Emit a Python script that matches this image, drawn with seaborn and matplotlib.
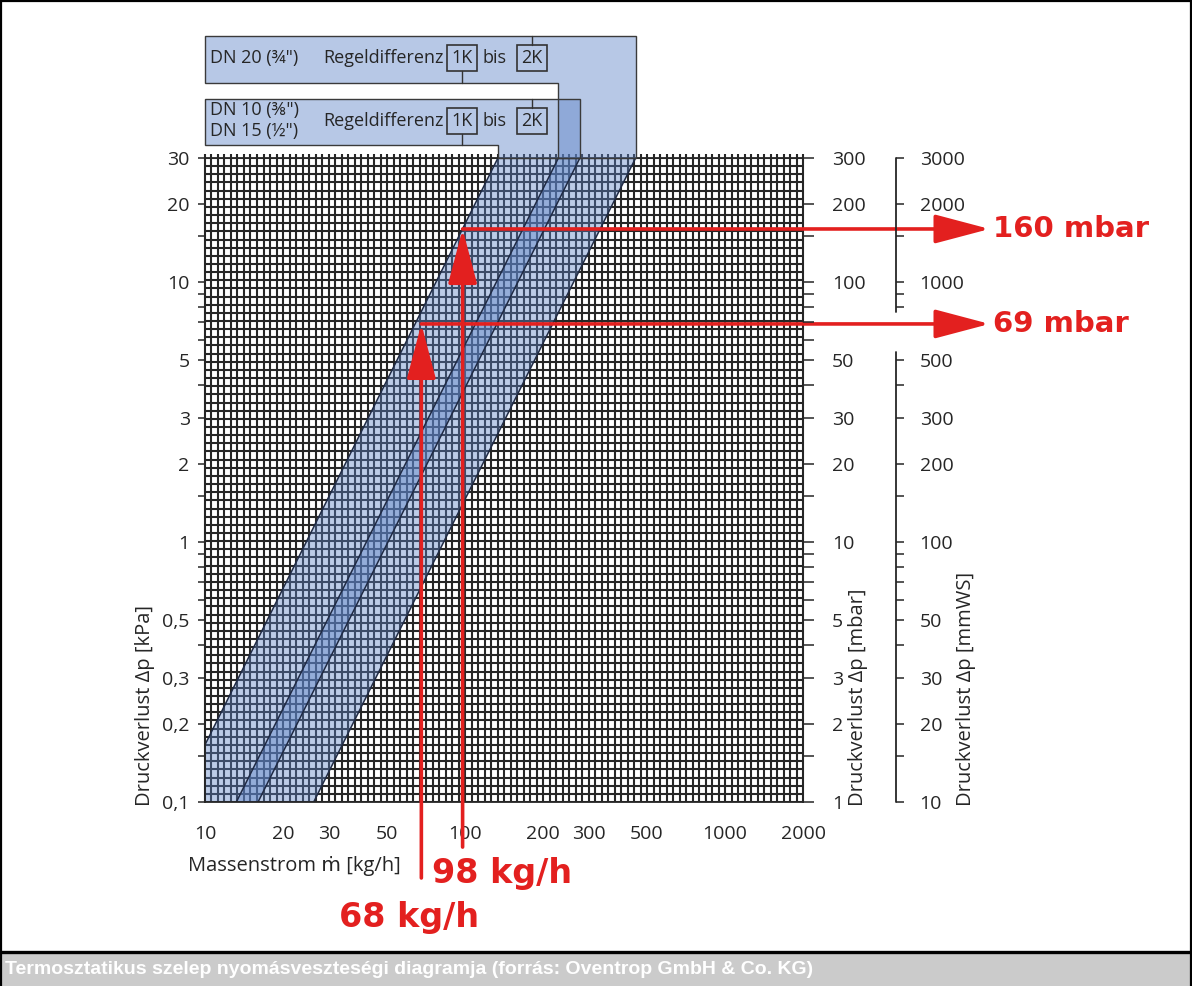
import numpy as np
import pandas as pd
import matplotlib
matplotlib.use("Agg")
import matplotlib.pyplot as plt
import seaborn as sns
from matplotlib.patches import Polygon, Rectangle, ArrowStyle
from matplotlib.lines import Line2D
from matplotlib.ticker import FixedLocator, NullFormatter

# ---- axis ticks -----------------------------------------------------------
flow_ticks = [10, 20, 30, 50, 100, 200, 300, 500, 1000, 2000]
kpa_ticks = [0.1, 0.2, 0.3, 0.5, 1, 2, 3, 5, 10, 20, 30]
kpa_labels = ["0,1", "0,2", "0,3", "0,5", "1", "2", "3", "5", "10", "20", "30"]
mbar_ticks = [1, 2, 3, 5, 10, 20, 30, 50, 100, 200, 300]
mmws_ticks = [10, 20, 30, 50, 100, 200, 300, 500, 1000, 2000, 3000]

# ---- characteristic lines (Δp ~ m²), given by their end points on the chart --
boundary_names = ["DN 10/15 1K", "DN 20 1K", "DN 10/15 2K", "DN 20 2K"]
boundary_flow_lo = [10.0, 13.2, 16.0, 26.2]    # kg/h
boundary_dp_lo = [0.166, 0.1, 0.1, 0.1]         # kPa
boundary_flow_hi = [134, 229, 277, 454]         # kg/h
boundary_dp_hi = [30, 30, 30, 30]               # kPa

# ---- reading examples ---------------------------------------------------------
read_flow = [68, 98]      # kg/h
read_mbar = [69, 160]     # mbar

RED = "#e3201f"
DARK = "#262626"
BAND = "#5d83c7"
BAND_ALPHA = 0.41
W, H = 1192, 986
TICK_FS = 14
LABEL_FS = 14.5

sns.set_theme(style="white")
plt.rcParams["font.family"] = ["Open Sans", "DejaVu Sans"]
plt.rcParams["text.color"] = DARK


def FX(x):
    return x / W


def FY(y):
    return 1 - y / H


fig = plt.figure(figsize=(W / 100, H / 100), dpi=100)
ax = fig.add_axes([FX(205), FY(802), 598 / W, 644 / H])
ax.set_xscale("log")
ax.set_yscale("log")
ax.set_xlim(10, 2000)
ax.set_ylim(0.1, 30)

# dense log paper grid
gx = 10 ** np.linspace(1, np.log10(2000), 93)
gy = 10 ** np.linspace(-1, np.log10(30), 80)
ax.vlines(gx, 0, 1.006, transform=ax.get_xaxis_transform(), colors="#262626",
          lw=1.5, zorder=3, clip_on=False)
ax.hlines(gy, 0, 1, transform=ax.get_yaxis_transform(), colors="#262626",
          lw=1.5, zorder=3)

# shaded bands (1K .. 2K) for both valve sizes, laid over the paper grid
bands = {
    "DN 10/15": [(boundary_flow_lo[0], 0.1), (boundary_flow_lo[0], boundary_dp_lo[0]),
                 (boundary_flow_hi[0], boundary_dp_hi[0]), (boundary_flow_hi[2], boundary_dp_hi[2]),
                 (boundary_flow_lo[2], boundary_dp_lo[2])],
    "DN 20": [(boundary_flow_lo[1], boundary_dp_lo[1]), (boundary_flow_hi[1], boundary_dp_hi[1]),
              (boundary_flow_hi[3], boundary_dp_hi[3]), (boundary_flow_lo[3], boundary_dp_lo[3])],
}
for verts in bands.values():
    ax.add_patch(Polygon(verts, closed=True, facecolor=BAND, alpha=BAND_ALPHA,
                         edgecolor="none", zorder=3.5))

lines_df = pd.DataFrame({
    "line": boundary_names * 2,
    "flow": boundary_flow_lo + boundary_flow_hi,
    "dp": boundary_dp_lo + boundary_dp_hi,
})
sns.lineplot(data=lines_df, x="flow", y="dp", hue="line", units="line",
             estimator=None, palette=["#1f2a44"] * 4, lw=1.1, legend=False,
             ax=ax, zorder=4)
ax.set_xlim(10, 2000)
ax.set_ylim(0.1, 30)

# ---- axes, ticks ----------------------------------------------------------------
def minor_positions(lo, hi):
    out = []
    for e in range(-2, 5):
        for m in (1.5, 4, 6, 7, 8, 9):
            v = m * 10 ** e
            if lo < v < hi:
                out.append(v)
    return out


ax.set_xticks(flow_ticks, labels=[str(v) for v in flow_ticks])
ax.xaxis.set_minor_locator(FixedLocator(minor_positions(10, 2000)))
ax.xaxis.set_minor_formatter(NullFormatter())
ax.set_yticks(kpa_ticks, labels=kpa_labels)
ax.yaxis.set_minor_locator(FixedLocator(minor_positions(0.1, 30)))
ax.yaxis.set_minor_formatter(NullFormatter())
ax.tick_params(axis="x", which="both", direction="inout", length=7, width=1.1,
               color=DARK, pad=13, labelsize=TICK_FS, labelcolor=DARK)
ax.tick_params(axis="y", which="both", direction="out", length=5, width=1.1,
               color=DARK, pad=6, labelsize=TICK_FS, labelcolor=DARK)
for s in ax.spines.values():
    s.set_color(DARK)
    s.set_linewidth(1.3)
    s.set_zorder(5)
ax.set_xlabel("")
ax.set_ylabel("")

# mbar scale on the right frame
ax2 = ax.twinx()
ax2.set_yscale("log")
ax2.set_ylim(1, 300)
ax2.set_yticks(mbar_ticks, labels=[str(v) for v in mbar_ticks])
ax2.yaxis.set_minor_locator(FixedLocator(minor_positions(1, 300)))
ax2.yaxis.set_minor_formatter(NullFormatter())
ax2.tick_params(axis="y", which="both", direction="out", length=8, width=1.1,
                color=DARK, pad=13, labelsize=TICK_FS, labelcolor=DARK)
for s in ax2.spines.values():
    s.set_visible(False)
ax2.grid(False)

# mmWS scale, broken where the reading arrows pass
mm_x = (896 - 205) / 598
ax3 = ax.twinx()
ax3.set_yscale("log")
ax3.set_ylim(10, 3000)
for s in ax3.spines.values():
    s.set_visible(False)
ax3.grid(False)
seg_lo, seg_hi = (10, 540), (770, 3000)
mm_major = [v for v in mmws_ticks if seg_lo[0] <= v <= seg_lo[1] or seg_hi[0] <= v <= seg_hi[1]]
mm_minor = [v for v in minor_positions(10, 3000)
            if seg_lo[0] <= v <= seg_lo[1] or seg_hi[0] <= v <= seg_hi[1]]
ax3.set_yticks(mm_major, labels=[str(v) for v in mm_major])
ax3.yaxis.set_minor_locator(FixedLocator(mm_minor))
ax3.yaxis.set_minor_formatter(NullFormatter())
ax3.yaxis.set_ticks_position("right")
ax3.spines["right"].set_position(("axes", mm_x))
ax3.tick_params(axis="y", which="both", direction="out", length=6, width=1.1,
                color=DARK, pad=11, labelsize=TICK_FS, labelcolor=DARK)
for lo, hi in (seg_lo, seg_hi):
    ax3.add_line(Line2D([mm_x, mm_x], [lo, hi], transform=ax3.get_yaxis_transform(),
                        color=DARK, lw=1.3, clip_on=False))

# axis titles
fig.text(FX(145), FY(806), "Druckverlust Δp [kPa]", rotation=90, ha="center",
         va="bottom", fontsize=LABEL_FS)
fig.text(FX(858), FY(806), "Druckverlust Δp [mbar]", rotation=90, ha="center",
         va="bottom", fontsize=LABEL_FS)
fig.text(FX(966), FY(806), "Druckverlust Δp [mmWS]", rotation=90, ha="center",
         va="bottom", fontsize=LABEL_FS)
fig.text(FX(188), FY(866), "Massenstrom ṁ [kg/h]", ha="left", va="center",
         fontsize=LABEL_FS)

# ---- legend boxes above the chart ---------------------------------------------------
xt = ax.get_xaxis_transform()
ya = lambda py: (802 - py) / 644
poly20 = [(10, ya(36)), (boundary_flow_hi[3], ya(36)), (boundary_flow_hi[3], 1.0),
          (boundary_flow_hi[1], 1.0), (boundary_flow_hi[1], ya(83)), (10, ya(83))]
poly10 = [(10, ya(99)), (boundary_flow_hi[2], ya(99)), (boundary_flow_hi[2], 1.0),
          (boundary_flow_hi[0], 1.0), (boundary_flow_hi[0], ya(145)), (10, ya(145))]
for verts in (poly20, poly10):
    ax.add_patch(Polygon(verts, closed=True, transform=xt, facecolor=BAND,
                         alpha=0.44, edgecolor="none", clip_on=False, zorder=6))
    ax.add_patch(Polygon(verts, closed=True, transform=xt, facecolor="none",
                         edgecolor="#3a3a3a", lw=1.0, clip_on=False, zorder=7))

box_font = dict(fontsize=13, color=DARK, va="center")
fig.text(FX(210), FY(58), "DN 20 (¾\")", ha="left", **box_font)
fig.text(FX(210), FY(110), "DN 10 (⅜\")", ha="left", **box_font)
fig.text(FX(210), FY(131), "DN 15 (½\")", ha="left", **box_font)
for yc in (58, 121):
    fig.text(FX(323), FY(yc), "Regeldifferenz", ha="left", **box_font)
    fig.text(FX(495), FY(yc), "bis", ha="center", **box_font)
    fig.text(FX(462), FY(yc), "1K", ha="center", **box_font)
    fig.text(FX(532), FY(yc), "2K", ha="center", **box_font)
    for xc in (462, 532):
        fig.add_artist(Rectangle((FX(xc - 15), FY(yc + 13)), 30 / W, 26 / H,
                                 transform=fig.transFigure, facecolor="none",
                                 edgecolor="#333333", lw=1.2))
# connectors from the 1K / 2K boxes to the band edges
for (x0, y0, y1) in ((462, 71, 83), (532, 45, 36), (462, 134, 145), (532, 108, 99)):
    fig.add_artist(Line2D([FX(x0), FX(x0)], [FY(y0), FY(y1)],
                          transform=fig.transFigure, color="#333333", lw=1.0))

# ---- reading arrows ------------------------------------------------------------
head = ArrowStyle("-|>", head_length=1.7, head_width=0.45)
starts = [-0.118, -0.070]
for flow, mbar, y0 in zip(read_flow, read_mbar, starts):
    dp = mbar / 10
    ax.annotate("", xy=(flow, dp), xycoords="data",
                xytext=(flow, y0), textcoords=("data", "axes fraction"),
                arrowprops=dict(arrowstyle=head, mutation_scale=20, color=RED,
                                lw=2.6, shrinkA=0, shrinkB=0),
                annotation_clip=False, zorder=10)
    ax.annotate("", xy=(1.312, dp), xycoords=("axes fraction", "data"),
                xytext=(flow, dp), textcoords="data",
                arrowprops=dict(arrowstyle=head, mutation_scale=20, color=RED,
                                lw=2.6, shrinkA=0, shrinkB=0),
                annotation_clip=False, zorder=10)
    ax.text(1.317, dp, f"{mbar} mbar", transform=ax.get_yaxis_transform(),
            ha="left", va="center", color=RED, fontsize=21, fontweight="bold",
            family="DejaVu Sans", clip_on=False)

red_font = dict(color=RED, fontsize=24, fontweight="bold", family="DejaVu Sans",
                ha="left", va="center")
fig.text(FX(432), FY(873), f"{read_flow[1]} kg/h", **red_font)
fig.text(FX(339), FY(918), f"{read_flow[0]} kg/h", **red_font)

# ---- frame and caption --------------------------------------------------------------
fig.add_artist(Rectangle((0, 0), 1, FY(953), transform=fig.transFigure,
                         facecolor="#cbcbcb", edgecolor="none"))
fig.add_artist(Line2D([0, 1], [FY(952), FY(952)], transform=fig.transFigure,
                      color="black", lw=2.4))
for xs, ys in (([FX(1), FX(1)], [0, 1]), ([FX(1191), FX(1191)], [0, 1]),
               ([0, 1], [FY(1), FY(1)])):
    fig.add_artist(Line2D(xs, ys, transform=fig.transFigure, color="black", lw=1.6))
fig.text(FX(5), FY(970),
         "Termosztatikus szelep nyomásveszteségi diagramja (forrás: Oventrop GmbH & Co. KG)",
         ha="left", va="center", color="white", fontsize=14, fontweight="bold",
         family=["Liberation Sans", "DejaVu Sans"])

fig.savefig("out.png", dpi=100)
